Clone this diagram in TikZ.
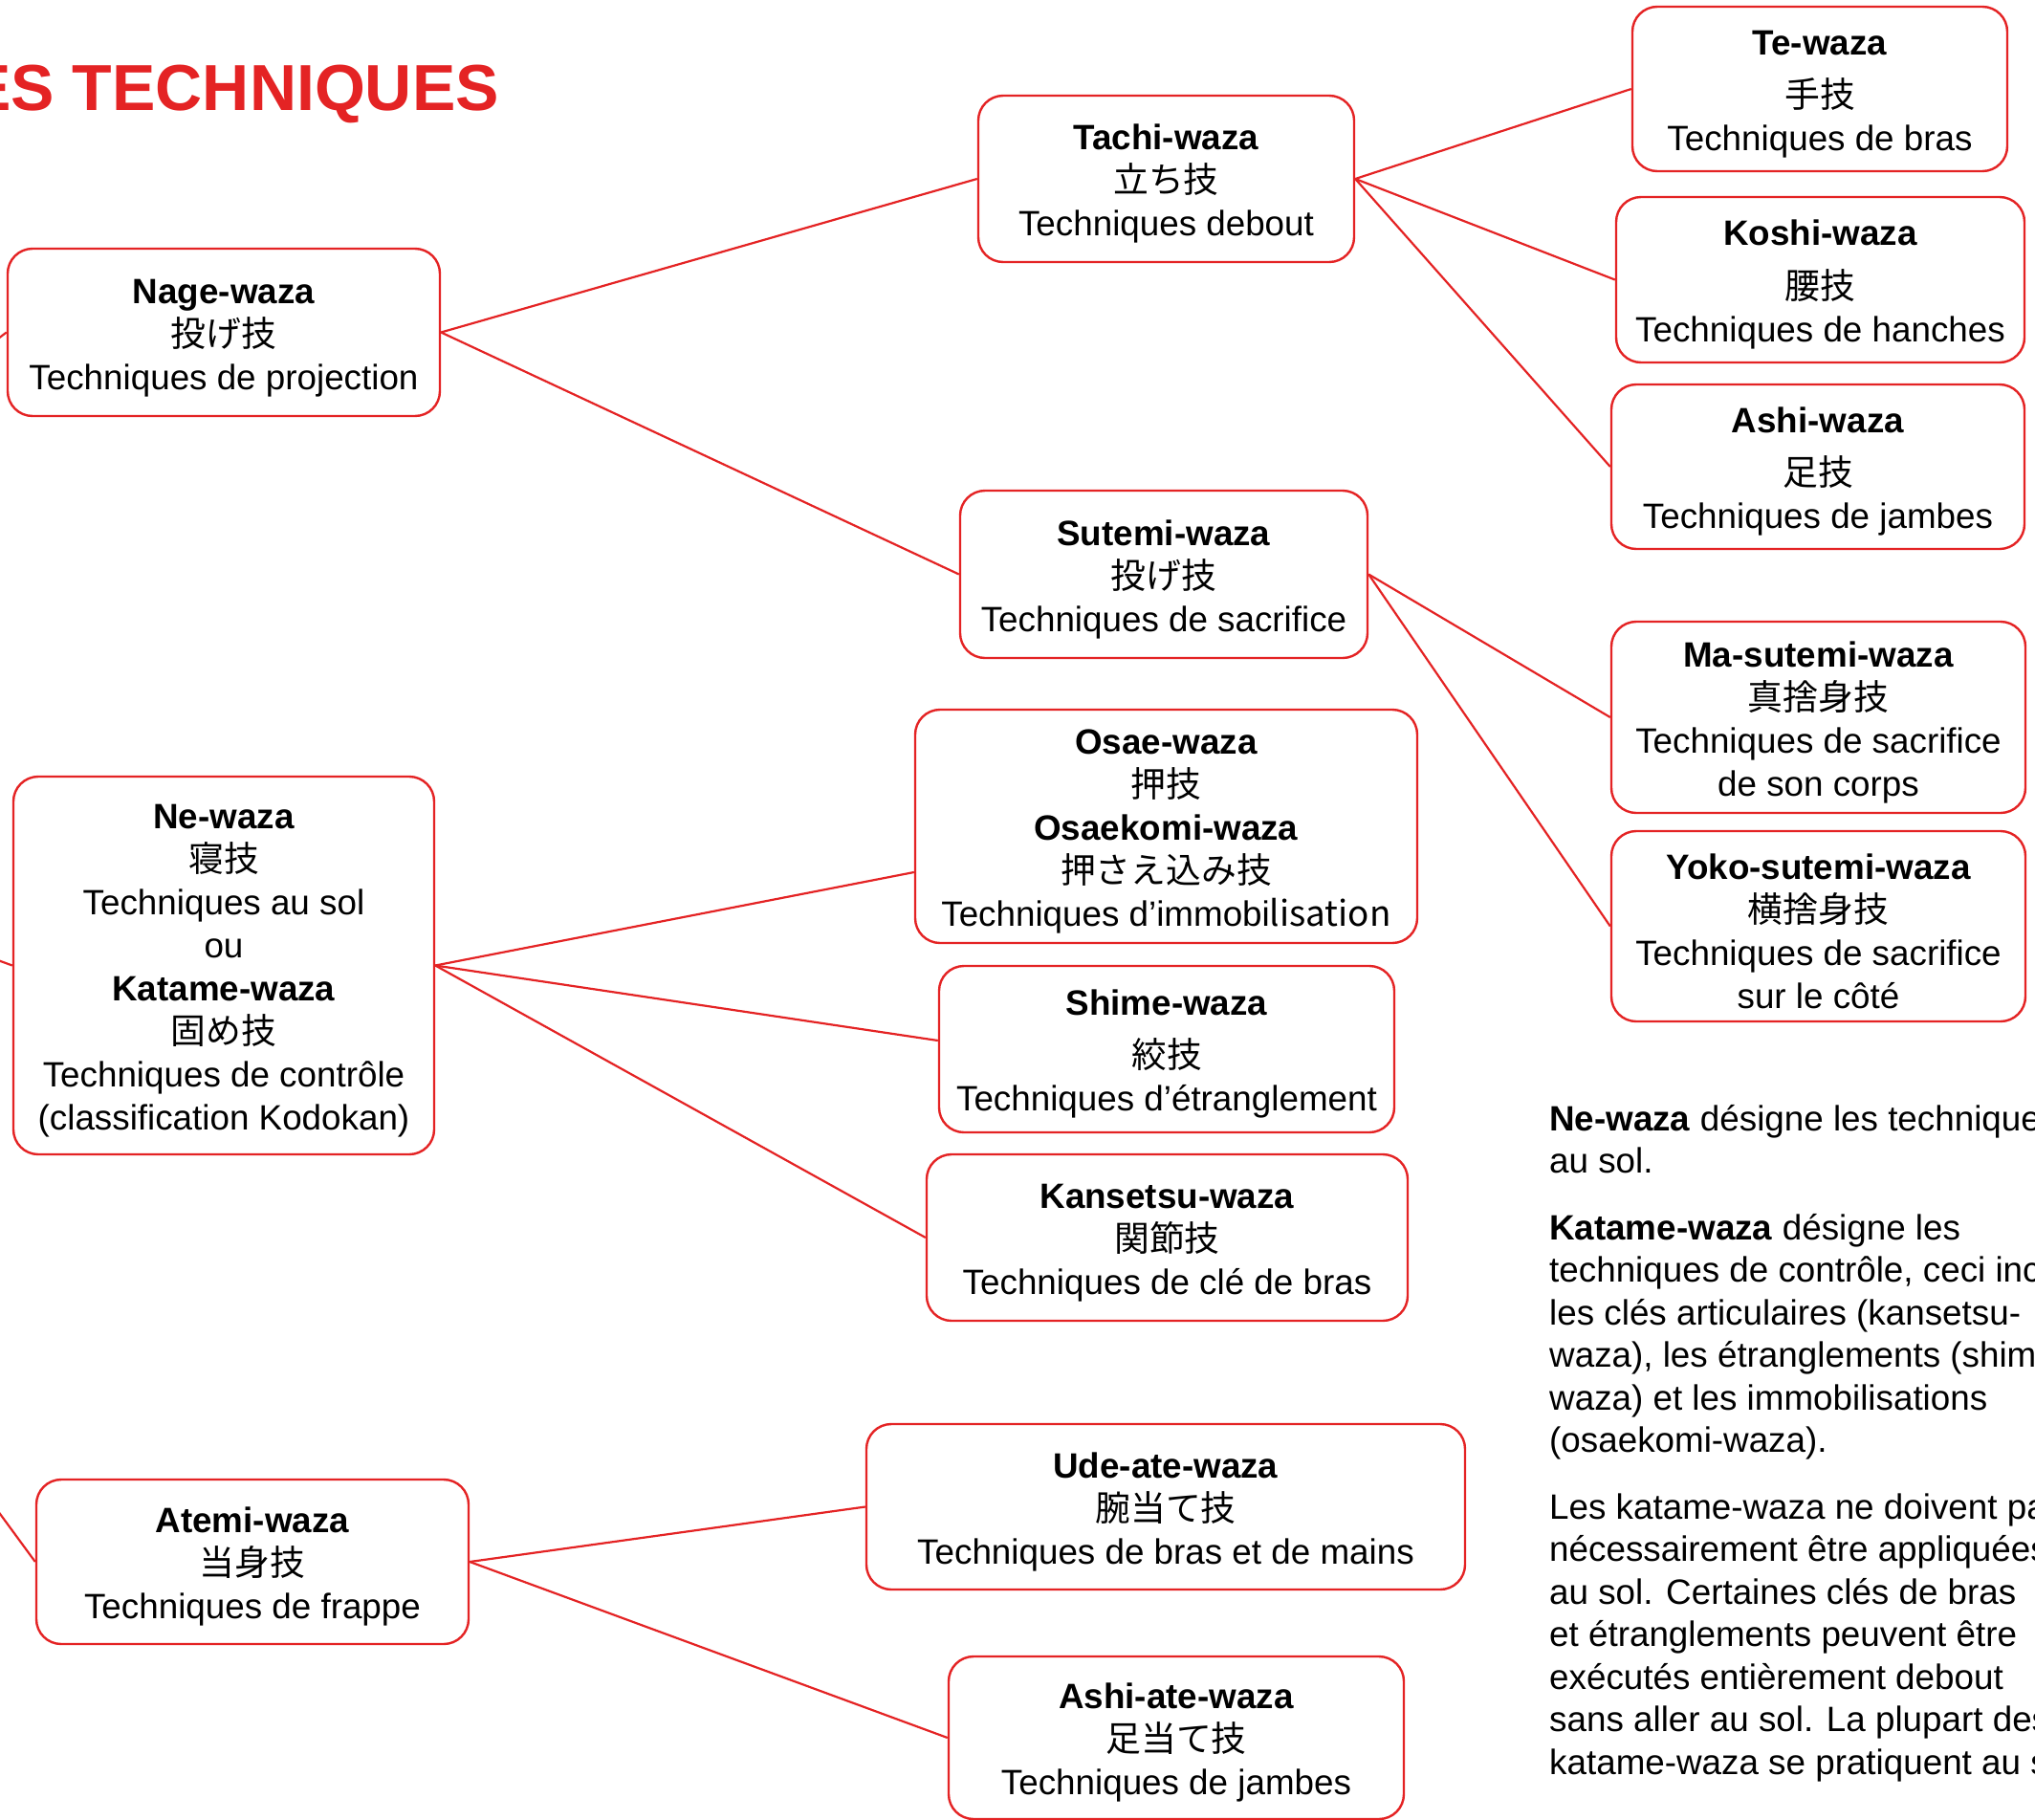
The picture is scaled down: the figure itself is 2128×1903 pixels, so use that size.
\documentclass[tikz,border=0pt]{standalone}
\usepackage{fontspec}
\setmainfont{Liberation Sans}
\newfontfamily\cjk{Noto Sans CJK JP}
\definecolor{jred}{RGB}{228,35,36}
\newcommand\bxfont{\fontsize{36.8}{45}\selectfont}
\newcommand\parafont{\fontsize{36.8}{44.5}\selectfont}
\newcommand\topstrut{\rule{0pt}{37pt}}
\begin{document}
\begin{tikzpicture}[x=1pt,y=-1pt,
  box/.style={draw=jred, line width=2.4pt, rounded corners=26pt, fill=white,
    align=center, inner sep=0pt, font=\bxfont},
  conn/.style={draw=jred, line width=2.2pt}]
\useasboundingbox (0,0) rectangle (2128,1903);

\node[anchor=base east, inner sep=0pt, text=jred,
  font=\fontsize{68}{80}\selectfont\bfseries] (title) at (522,115) {ES TECHNIQUES};

% level 1
\node[box, minimum width=452pt, minimum height=175pt] (nage) at (234,347.5)
  {\topstrut\textbf{Nage-waza}\\{\cjk 投げ技}\\Techniques de projection};
\node[box, minimum width=440pt, minimum height=395pt] (ne) at (234,1009.5)
  {\topstrut\textbf{Ne-waza}\\{\cjk 寝技}\\Techniques au sol\\ou\\\textbf{Katame-waza}\\{\cjk 固め技}\\Techniques de contrôle\\(classification Kodokan)};
\node[box, minimum width=452pt, minimum height=172pt] (atemi) at (264,1633)
  {\topstrut\textbf{Atemi-waza}\\{\cjk 当身技}\\Techniques de frappe};

% level 2
\node[box, minimum width=393pt, minimum height=174pt] (tachi) at (1219.5,187)
  {\topstrut\textbf{Tachi-waza}\\{\cjk 立ち技}\\Techniques debout};
\node[box, minimum width=426pt, minimum height=175pt] (sutemi) at (1217,600.5)
  {\topstrut\textbf{Sutemi-waza}\\{\cjk 投げ技}\\Techniques de sacrifice};
\node[box, minimum width=525pt, minimum height=244pt] (osae) at (1219.5,864)
  {\topstrut\textbf{Osae-waza}\\{\cjk 押技}\\\textbf{Osaekomi-waza}\\{\cjk 押さえ込み技}\\Techniques d’immobi{\cjk lisation}};
\node[box, minimum width=476pt, minimum height=174pt] (shime) at (1220,1097)
  {\topstrut\textbf{Shime-waza}\\[10.6pt]{\cjk 絞技}\\Techniques d’étranglement};
\node[box, minimum width=503pt, minimum height=174pt] (kansetsu) at (1220.5,1294)
  {\topstrut\textbf{Kansetsu-waza}\\{\cjk 関節技}\\Techniques de clé de bras};
\node[box, minimum width=626pt, minimum height=173pt] (udeate) at (1219,1575.5)
  {\topstrut\textbf{Ude-ate-waza}\\{\cjk 腕当て技}\\Techniques de bras et de mains};
\node[box, minimum width=476pt, minimum height=170pt] (ashiate) at (1230,1817)
  {\topstrut\textbf{Ashi-ate-waza}\\{\cjk 足当て技}\\Techniques de jambes};

% level 3
\node[box, minimum width=392pt, minimum height=172pt] (tewaza) at (1903,93)
  {\topstrut\textbf{Te-waza}\\[10.6pt]{\cjk 手技}\\Techniques de bras};
\node[box, minimum width=427pt, minimum height=173pt] (koshi) at (1903.5,292.5)
  {\topstrut\textbf{Koshi-waza}\\[10.6pt]{\cjk 腰技}\\Techniques de hanches};
\node[box, minimum width=432pt, minimum height=172pt] (ashi) at (1901,488)
  {\topstrut\textbf{Ashi-waza}\\[10.6pt]{\cjk 足技}\\Techniques de jambes};
\node[box, minimum width=433pt, minimum height=200pt] (masutemi) at (1901.5,750)
  {\topstrut\textbf{Ma-sutemi-waza}\\{\cjk 真捨身技}\\Techniques de sacrifice\\de son corps};
\node[box, minimum width=433pt, minimum height=199pt] (yoko) at (1901.5,968.5)
  {\topstrut\textbf{Yoko-sutemi-waza}\\{\cjk 横捨身技}\\Techniques de sacrifice\\sur le côté};

% note
\node[anchor=north west, inner sep=0pt, align=left, font=\parafont] (note) at (1620,1155)
  {\textbf{Ne-waza} désigne les techniques\\
   au sol.\\[25pt]
   \textbf{Katame-waza} désigne les\\
   techniques de contrôle, ceci inclut\\
   les clés articulaires (kansetsu-\\
   waza), les étranglements (shime-\\
   waza) et les immobilisations\\
   (osaekomi-waza).\\[25pt]
   Les katame-waza ne doivent pas\\
   nécessairement être appliquées\\
   au sol. Certaines clés de bras\\
   et étranglements peuvent être\\
   exécutés entièrement debout\\
   sans aller au sol. La plupart des\\
   katame-waza se pratiquent au sol.};

% connectors
\coordinate (root) at (-581,791);
\draw[conn] (root) -- (nage.west);
\draw[conn] (root) -- (ne.west);
\draw[conn] (root) -- (atemi.west);
\draw[conn] (nage.east) -- (tachi.west);
\draw[conn] (nage.east) -- (sutemi.west);
\draw[conn] (tachi.east) -- (tewaza.west);
\draw[conn] (tachi.east) -- (koshi.west);
\draw[conn] (tachi.east) -- (ashi.west);
\draw[conn] (sutemi.east) -- (masutemi.west);
\draw[conn] (sutemi.east) -- (yoko.west);
\draw[conn] (ne.east) -- ([yshift=-48pt]osae.west);
\draw[conn] (ne.east) -- ([yshift=9pt]shime.west);
\draw[conn] (ne.east) -- (kansetsu.west);
\draw[conn] (atemi.east) -- (udeate.west);
\draw[conn] (atemi.east) -- (ashiate.west);
\end{tikzpicture}
\end{document}
